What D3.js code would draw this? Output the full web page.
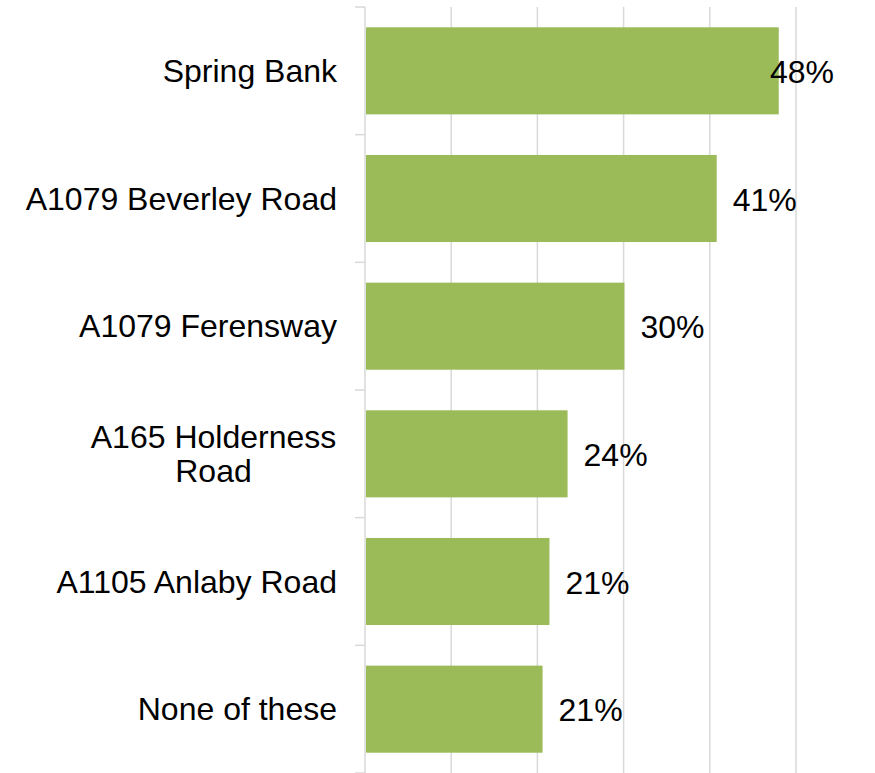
<!DOCTYPE html>
<html>
<head>
<meta charset="utf-8">
<script src="https://cdn.jsdelivr.net/npm/d3@7"></script>
<style>
  body { margin: 0; background: #fff; }
  text { font-family: "Liberation Sans", Arial, sans-serif; fill: #000; }
</style>
</head>
<body>
<script>
// data (bar lengths estimated, labels as printed)
const categories = ["Spring Bank", "A1079 Beverley Road", "A1079 Ferensway", "A165 Holderness Road", "A1105 Anlaby Road", "None of these"];
const labelLines = [["Spring Bank"], ["A1079 Beverley Road"], ["A1079 Ferensway"], ["A165 Holderness", "Road"], ["A1105 Anlaby Road"], ["None of these"]];
const values = [48.0, 40.8, 30.1, 23.5, 21.4, 20.6];
const valueLabels = ["48%", "41%", "30%", "24%", "21%", "21%"];
const gridTicks = [0, 10, 20, 30, 40, 50];

const W = 875, H = 773;
const mLeft = 365, mTop = 7, mBottom = 773, mRight = 796;

const svg = d3.select("body").append("svg")
    .attr("width", W).attr("height", H);

const x = d3.scaleLinear().domain([0, 50]).range([mLeft, mRight]);
const y = d3.scaleBand().domain(categories).range([mTop, mBottom])
    .paddingInner(0.318).paddingOuter(0.159);

// gridlines
svg.append("g").selectAll("line")
    .data(gridTicks)
    .enter().append("line")
    .attr("x1", d => x(d)).attr("x2", d => x(d))
    .attr("y1", mTop).attr("y2", mBottom)
    .attr("stroke", "#d9d9d9").attr("stroke-width", 1.5);

// category ticks on the axis
const step = y.step();
svg.append("g").selectAll("line")
    .data(d3.range(categories.length + 1))
    .enter().append("line")
    .attr("x1", mLeft - 10).attr("x2", mLeft)
    .attr("y1", i => mTop + i * step).attr("y2", i => mTop + i * step)
    .attr("stroke", "#d9d9d9").attr("stroke-width", 1.5);

// bars
svg.append("g").selectAll("rect")
    .data(categories)
    .enter().append("rect")
    .attr("x", x(0) + 1)
    .attr("y", d => y(d))
    .attr("width", (d, i) => x(values[i]) - x(0) - 1)
    .attr("height", y.bandwidth())
    .attr("fill", "#9bbb59");

// category labels
const lineH = 34;
categories.forEach((c, i) => {
    const lines = labelLines[i];
    const cy = y(c) + y.bandwidth() / 2;
    const t = svg.append("text")
        .style("font-size", "32px");
    // multi-line labels are centred, single ones right-aligned at the axis
    if (lines.length === 1) {
        t.attr("text-anchor", "end")
            .attr("x", mLeft - 28)
            .attr("y", cy)
            .attr("dy", "0.35em")
            .text(lines[0]);
    } else {
        t.attr("text-anchor", "middle");
        lines.forEach((l, j) => {
            t.append("tspan")
                .attr("x", 213.5)
                .attr("y", cy + (j - (lines.length - 1) / 2) * lineH)
                .attr("dy", "0.35em")
                .text(l);
        });
    }
});

// value labels
svg.append("g").selectAll("text")
    .data(categories)
    .enter().append("text")
    .attr("x", (d, i) => Math.min(x(values[i]) + 16, 770))
    .attr("y", d => y(d) + y.bandwidth() / 2 + 1)
    .attr("dy", "0.35em")
    .style("font-size", "32px")
    .text((d, i) => valueLabels[i]);
</script>
</body>
</html>
